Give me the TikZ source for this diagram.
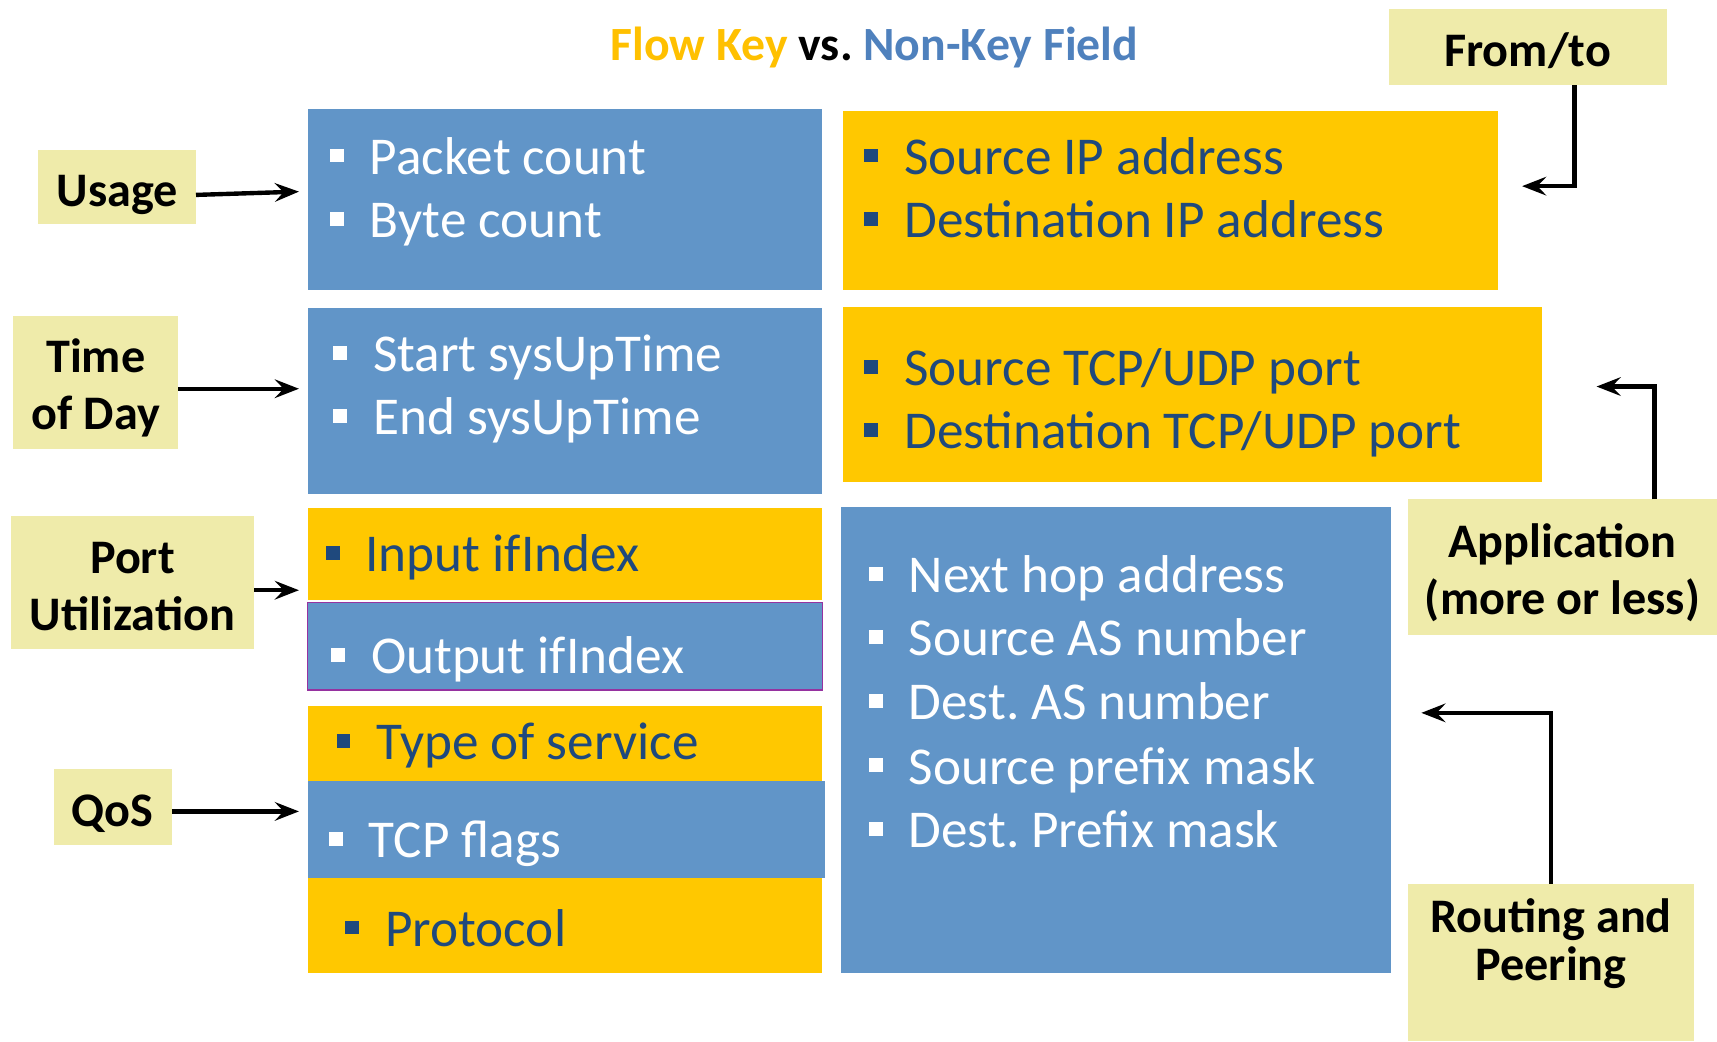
\documentclass[tikz,border=0pt]{standalone}
\usepackage{fontspec}
\setmainfont{Carlito}
\usetikzlibrary{arrows.meta}
\definecolor{boxblue}{RGB}{97,149,200}
\definecolor{boxyellow}{RGB}{255,200,0}
\definecolor{khaki}{RGB}{239,235,170}
\definecolor{darkblue}{RGB}{31,73,125}
\definecolor{titleyellow}{RGB}{255,192,0}
\definecolor{titleblue}{RGB}{79,129,189}
\definecolor{borderpurple}{RGB}{150,50,160}
\newcommand\sqbul[1]{\textcolor{#1}{\rule[0.22em]{0.26em}{0.26em}}\hspace{0.49em}}
\newcommand\lbllines[1]{\begin{tabular}[t]{@{}c@{}}#1\end{tabular}}
\frenchspacing
\begin{document}
\begin{tikzpicture}[x=0.5pt,y=-0.5pt,
  bluebox/.style={fill=boxblue, draw=none, inner sep=0pt, outer sep=0pt},
  yellowbox/.style={fill=boxyellow, draw=none, inner sep=0pt, outer sep=0pt},
  lbl/.style={fill=khaki, inner sep=0pt, outer sep=0pt,
    font=\bfseries\fontsize{22}{26}\selectfont},
  witem/.style={anchor=base west, inner sep=0pt, text=white, font=\fontsize{24.3}{29}\selectfont},
  ditem/.style={anchor=base west, inner sep=0pt, text=darkblue, font=\fontsize{24.3}{29}\selectfont},
  arr/.style={-{Stealth[length=11pt,width=8.5pt,inset=4pt]}, line width=2pt, black}
]
\useasboundingbox (0,0) rectangle (1568,951);

% title
\node[anchor=base, inner sep=0pt, font=\bfseries\fontsize{21.8}{26}\selectfont] (title) at (798.5,55)
  {\textcolor{titleyellow}{Flow Key} vs. \textcolor{titleblue}{Non-Key Field}};

% boxes
\node[bluebox, minimum width=235pt, minimum height=82.5pt] (b1) at (516,182.5) {};
\node[yellowbox, minimum width=299pt, minimum height=82pt] (y1) at (1069,183) {};
\node[bluebox, minimum width=235pt, minimum height=85pt] (b2) at (516,366) {};
\node[yellowbox, minimum width=319pt, minimum height=80pt] (y2) at (1089,360) {};
\node[yellowbox, minimum width=235pt, minimum height=42pt] (y3) at (516,506) {};
\node[bluebox, draw=borderpurple, line width=0.6pt, minimum width=235pt, minimum height=40pt] (b3) at (516,590) {};
\node[bluebox, minimum width=251pt, minimum height=213pt] (b4) at (1019,676) {};
\node[yellowbox, minimum width=235pt, minimum height=122pt] (y4) at (516,767) {};
\node[bluebox, minimum width=236pt, minimum height=44.5pt] (b5) at (517,757.5) {};

% items
\node[witem] (i1) at (301,159) {\sqbul{white}Packet count};
\node[witem] (i2) at (301,217) {\sqbul{white}Byte count};
\node[ditem] (i3) at (789,159) {\sqbul{darkblue}Source IP address};
\node[ditem] (i4) at (789,217) {\sqbul{darkblue}Destination IP address};
\node[witem] (i5) at (304,339) {\sqbul{white}Start sysUpTime};
\node[witem] (i6) at (304,397) {\sqbul{white}End sysUpTime};
\node[ditem] (i7) at (789,352) {\sqbul{darkblue}Source TCP/UDP port};
\node[ditem] (i8) at (789,410) {\sqbul{darkblue}Destination TCP/UDP port};
\node[ditem] (i9) at (297,522) {\sqbul{darkblue}Input ifIndex};
\node[witem] (i10) at (302,615) {\sqbul{white}Output ifIndex};
\node[ditem] (i11) at (307,694) {\sqbul{darkblue}Type of service};
\node[witem] (i12) at (300,783) {\sqbul{white}TCP flags};
\node[ditem] (i13) at (315,864) {\sqbul{darkblue}Protocol};
\node[witem] (i14) at (793,541) {\sqbul{white}Next hop address};
\node[witem] (i15) at (793,599) {\sqbul{white}Source AS number};
\node[witem] (i16) at (793,657) {\sqbul{white}Dest. AS number};
\node[witem] (i17) at (793,716) {\sqbul{white}Source prefix mask};
\node[witem] (i18) at (793,774) {\sqbul{white}Dest. Prefix mask};

% labels
\node[lbl, minimum width=72pt, minimum height=34pt, text height=17.8pt, text depth=0pt] (usage) at (107,171) {\lbllines{Usage}};
\node[lbl, minimum width=127pt, minimum height=35pt, text height=17.8pt, text depth=0pt] (fromto) at (1395,43) {\lbllines{From/to}};
\node[lbl, minimum width=75.5pt, minimum height=60.5pt, text height=0pt, text depth=9.7pt] (tod) at (87.5,349.5) {\lbllines{Time\\of Day}};
\node[lbl, minimum width=111pt, minimum height=61pt, text height=0pt, text depth=8.2pt] (port) at (121,532) {\lbllines{Port\\Utilization}};
\node[lbl, minimum width=141pt, minimum height=62pt, text height=0pt, text depth=9.2pt] (app) at (1427,518) {\lbllines{Application\\(more or less)}};
\node[lbl, minimum width=54pt, minimum height=35pt, text height=17.8pt, text depth=0pt] (qos) at (103,737) {\lbllines{QoS}};
\node[lbl, font=\bfseries\fontsize{22}{21}\selectfont, minimum width=130.5pt, minimum height=72pt, text height=0pt, text depth=27.2pt] (rt) at (1416.5,879) {\lbllines{Routing and\\Peering}};

% arrow end points
\coordinate (ua) at (273,175);
\coordinate (ta) at (273,355);
\coordinate (pa) at (273,539);
\coordinate (qa) at (273,741);
\coordinate (fa) at (1390,170);
\coordinate (aa) at (1458,353);
\coordinate (ra) at (1298,651);

% connectors
\draw[arr] ([yshift=-3.5pt]usage.east) -- (ua);
\draw[arr] ([yshift=-2.75pt]tod.east) -- (ta);
\draw[arr] ([yshift=-3.5pt]port.east) -- (pa);
\draw[arr] ([yshift=-2pt]qos.east) -- (qa);
\draw[arr] ([xshift=21.5pt]fromto.south) |- (fa);
\draw[arr] ([xshift=42pt]app.north) |- (aa);
\draw[arr] (rt.north) |- (ra);
\end{tikzpicture}
\end{document}
